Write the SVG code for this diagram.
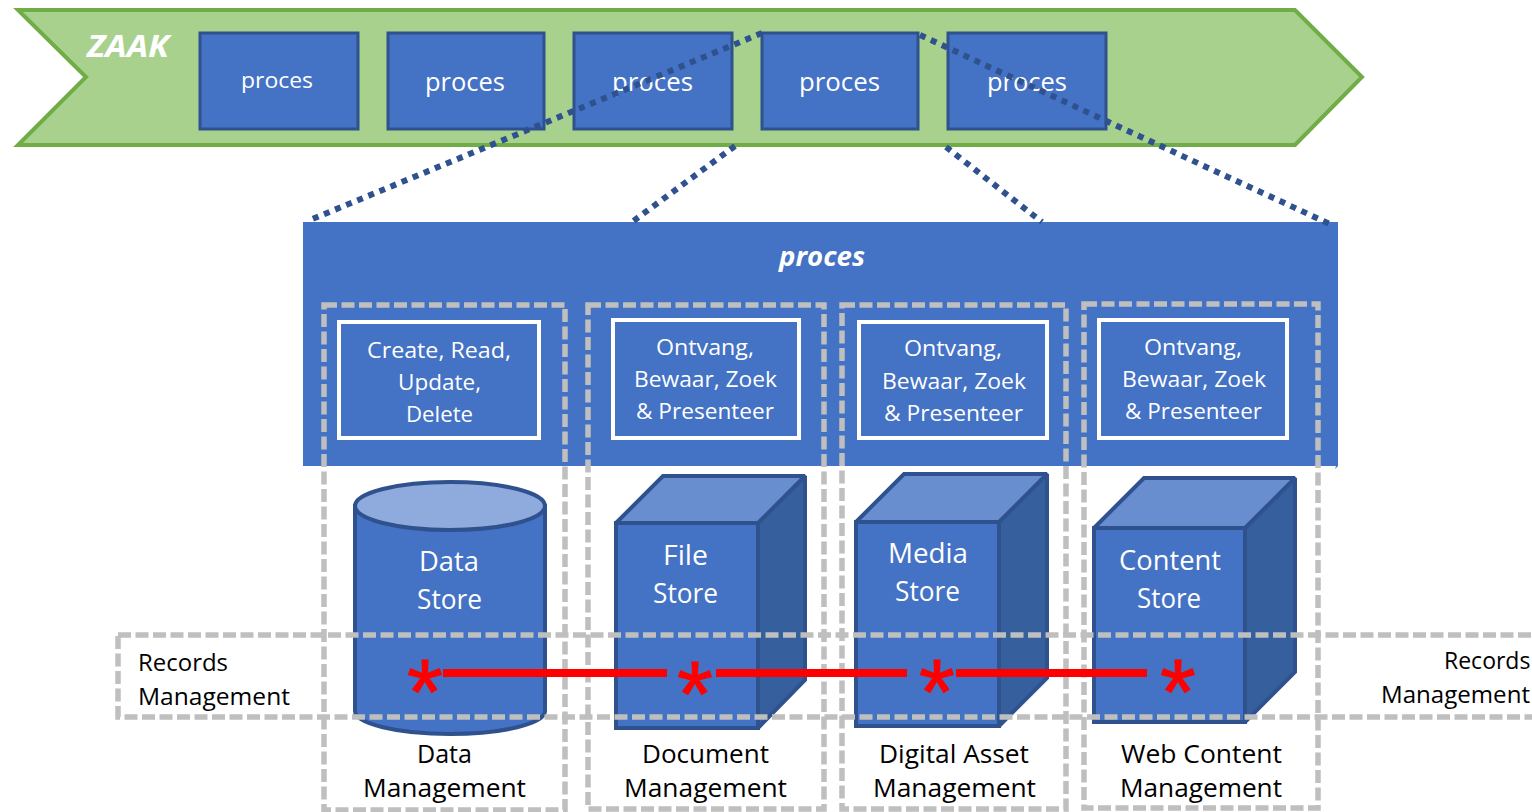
<svg xmlns="http://www.w3.org/2000/svg" width="1532" height="812" viewBox="0 0 1532 812">
<style>
text{font-family:"Open Sans","Noto Sans","Liberation Sans",sans-serif}
.w{fill:#fff}.k{fill:#000}
.p{font-size:26px}.s{font-size:22px}.m{font-size:27px}.l{font-size:25px}.r{font-size:24px}
.bi{font-weight:700;font-style:italic}
.box{fill:#4472C4;stroke:#2F528F;stroke-width:3}
.wb{fill:none;stroke:#fff;stroke-width:4}
.body{fill:#4472C4;stroke:#2F528F;stroke-width:4}
.top{fill:#698ED0;stroke:#2F528F;stroke-width:4;stroke-miterlimit:2}
.side{fill:#365F9E;stroke:#2F528F;stroke-width:4;stroke-miterlimit:2}
.dot{stroke:#2F528F;stroke-width:6;stroke-dasharray:6 6;fill:none}
.dash{fill:none;stroke:#BFBFBF;stroke-width:5.5;stroke-dasharray:13 4.5}
.red{stroke:#FF0000;stroke-width:8}
.ast{fill:#FF0000;stroke:#FF0000;stroke-width:1;font-size:92px;font-family:"Liberation Sans",sans-serif;text-anchor:middle}
</style>
<g id="zaak">
<polygon points="18,10 1295,10 1362,77 1295,145 18,145 86,77" fill="#A9D18E" stroke="#70AD47" stroke-width="4"/>
<text class="w bi" x="87" y="57" font-size="30" textLength="82" lengthAdjust="spacingAndGlyphs">ZAAK</text>
</g>
<g id="proces-1"><rect class="box" x="200" y="33" width="158" height="96"/><text class="w s" x="241" y="88" textLength="72" lengthAdjust="spacingAndGlyphs">proces</text></g>
<g id="proces-2"><rect class="box" x="388" y="33" width="156" height="96"/><text class="w p" x="425" y="91" textLength="80" lengthAdjust="spacingAndGlyphs">proces</text></g>
<g id="proces-3"><rect class="box" x="574" y="33" width="158" height="96"/><text class="w p" x="612" y="91" textLength="81" lengthAdjust="spacingAndGlyphs">proces</text></g>
<g id="proces-4"><rect class="box" x="762" y="33" width="156" height="96"/><text class="w p" x="799" y="91" textLength="81" lengthAdjust="spacingAndGlyphs">proces</text></g>
<g id="proces-5"><rect class="box" x="948" y="33" width="158" height="96"/><text class="w p" x="987" y="91" textLength="80" lengthAdjust="spacingAndGlyphs">proces</text></g>
<g id="proces-main">
<path d="M303 222H1338V466L1335 469L1336 466H303Z" fill="#4472C4"/>
<text class="w bi" x="779" y="266" font-size="26" textLength="86" lengthAdjust="spacingAndGlyphs">proces</text>
</g>
<g id="connectors">
<line class="dot" x1="762" y1="33" x2="310" y2="220"/>
<line class="dot" x1="735" y1="146" x2="632" y2="222"/>
<line class="dot" x1="946" y1="147" x2="1042" y2="222"/>
<line class="dot" x1="920" y1="35" x2="1332" y2="225"/>
</g>
<g id="func-1"><rect class="wb" x="339" y="322" width="200" height="116"/>
<text class="w s" x="367" y="358" textLength="144" lengthAdjust="spacingAndGlyphs">Create, Read,</text>
<text class="w s" x="398" y="390" textLength="83" lengthAdjust="spacingAndGlyphs">Update,</text>
<text class="w s" x="406" y="422" textLength="67" lengthAdjust="spacingAndGlyphs">Delete</text></g>
<g id="func-2"><rect class="wb" x="613" y="320" width="186" height="118"/>
<text class="w s" x="656" y="355" textLength="98" lengthAdjust="spacingAndGlyphs">Ontvang,</text>
<text class="w s" x="634" y="387" textLength="143" lengthAdjust="spacingAndGlyphs">Bewaar, Zoek</text>
<text class="w s" x="636" y="419" textLength="138" lengthAdjust="spacingAndGlyphs">&amp; Presenteer</text></g>
<g id="func-3"><rect class="wb" x="859" y="322" width="188" height="116"/>
<text class="w s" x="904" y="356" textLength="98" lengthAdjust="spacingAndGlyphs">Ontvang,</text>
<text class="w s" x="882" y="389" textLength="144" lengthAdjust="spacingAndGlyphs">Bewaar, Zoek</text>
<text class="w s" x="884" y="421" textLength="139" lengthAdjust="spacingAndGlyphs">&amp; Presenteer</text></g>
<g id="func-4"><rect class="wb" x="1099" y="320" width="188" height="118"/>
<text class="w s" x="1144" y="355" textLength="98" lengthAdjust="spacingAndGlyphs">Ontvang,</text>
<text class="w s" x="1122" y="387" textLength="144" lengthAdjust="spacingAndGlyphs">Bewaar, Zoek</text>
<text class="w s" x="1125" y="419" textLength="137" lengthAdjust="spacingAndGlyphs">&amp; Presenteer</text></g>
<g id="data-store">
<path class="body" d="M355 506V711A95 23 0 0 0 545 711V506Z"/>
<ellipse cx="450" cy="506" rx="95" ry="24" fill="#8FAADC" stroke="#2F528F" stroke-width="4"/>
<text class="w m" x="419" y="571" textLength="60" lengthAdjust="spacingAndGlyphs">Data</text>
<text class="w m" x="417" y="609" textLength="65" lengthAdjust="spacingAndGlyphs">Store</text>
</g>
<g id="file-store">
<polygon class="side" points="758,523 805,476 805,680 758,728"/>
<polygon class="top" points="616,523 663,476 805,476 758,523"/>
<rect class="body" x="616" y="523" width="142" height="205"/>
<text class="w m" x="663" y="565" textLength="45" lengthAdjust="spacingAndGlyphs">File</text>
<text class="w m" x="653" y="603" textLength="65" lengthAdjust="spacingAndGlyphs">Store</text>
</g>
<g id="media-store">
<polygon class="side" points="999,522 1047,474 1047,678 999,726"/>
<polygon class="top" points="856,522 904,474 1047,474 999,522"/>
<rect class="body" x="856" y="522" width="143" height="204"/>
<text class="w m" x="888" y="563" textLength="80" lengthAdjust="spacingAndGlyphs">Media</text>
<text class="w m" x="895" y="601" textLength="65" lengthAdjust="spacingAndGlyphs">Store</text>
</g>
<g id="content-store">
<polygon class="side" points="1245,528 1295,478 1295,672 1245,722"/>
<polygon class="top" points="1094,528 1144,478 1295,478 1245,528"/>
<rect class="body" x="1094" y="528" width="151" height="194"/>
<text class="w m" x="1119" y="570" textLength="102" lengthAdjust="spacingAndGlyphs">Content</text>
<text class="w m" x="1137" y="608" textLength="64" lengthAdjust="spacingAndGlyphs">Store</text>
</g>
<g id="data-management"><rect class="dash" x="324" y="305" width="241" height="505"/>
<text class="k l" x="417" y="763" textLength="55" lengthAdjust="spacingAndGlyphs">Data</text>
<text class="k l" x="363" y="797" textLength="163" lengthAdjust="spacingAndGlyphs">Management</text></g>
<g id="document-management"><rect class="dash" x="588" y="305" width="236" height="504"/>
<text class="k l" x="642" y="763" textLength="127" lengthAdjust="spacingAndGlyphs">Document</text>
<text class="k l" x="624" y="797" textLength="163" lengthAdjust="spacingAndGlyphs">Management</text></g>
<g id="digital-asset-management"><rect class="dash" x="842" y="305" width="224" height="504"/>
<text class="k l" x="879" y="763" textLength="150" lengthAdjust="spacingAndGlyphs">Digital Asset</text>
<text class="k l" x="873" y="797" textLength="163" lengthAdjust="spacingAndGlyphs">Management</text></g>
<g id="web-content-management"><rect class="dash" x="1084" y="304" width="234" height="504"/>
<text class="k l" x="1121" y="763" textLength="161" lengthAdjust="spacingAndGlyphs">Web Content</text>
<text class="k l" x="1120" y="797" textLength="162" lengthAdjust="spacingAndGlyphs">Management</text></g>
<g id="records-management"><rect class="dash" x="118" y="635" width="1500" height="82"/>
<text class="k r" x="138" y="671" textLength="90" lengthAdjust="spacingAndGlyphs">Records</text>
<text class="k r" x="138" y="705" textLength="152" lengthAdjust="spacingAndGlyphs">Management</text>
<text class="k" font-size="23" x="1444" y="669">Records</text>
<text class="k r" x="1381" y="703" textLength="149" lengthAdjust="spacingAndGlyphs">Management</text></g>
<g id="records-link">
<line class="red" x1="443" y1="673" x2="667" y2="673"/>
<line class="red" x1="716" y1="673" x2="907" y2="673"/>
<line class="red" x1="956" y1="673" x2="1147" y2="673"/>
<text class="ast" x="425" y="724">*</text>
<text class="ast" x="695" y="726">*</text>
<text class="ast" x="937" y="724">*</text>
<text class="ast" x="1178" y="724">*</text>
</g>
</svg>
